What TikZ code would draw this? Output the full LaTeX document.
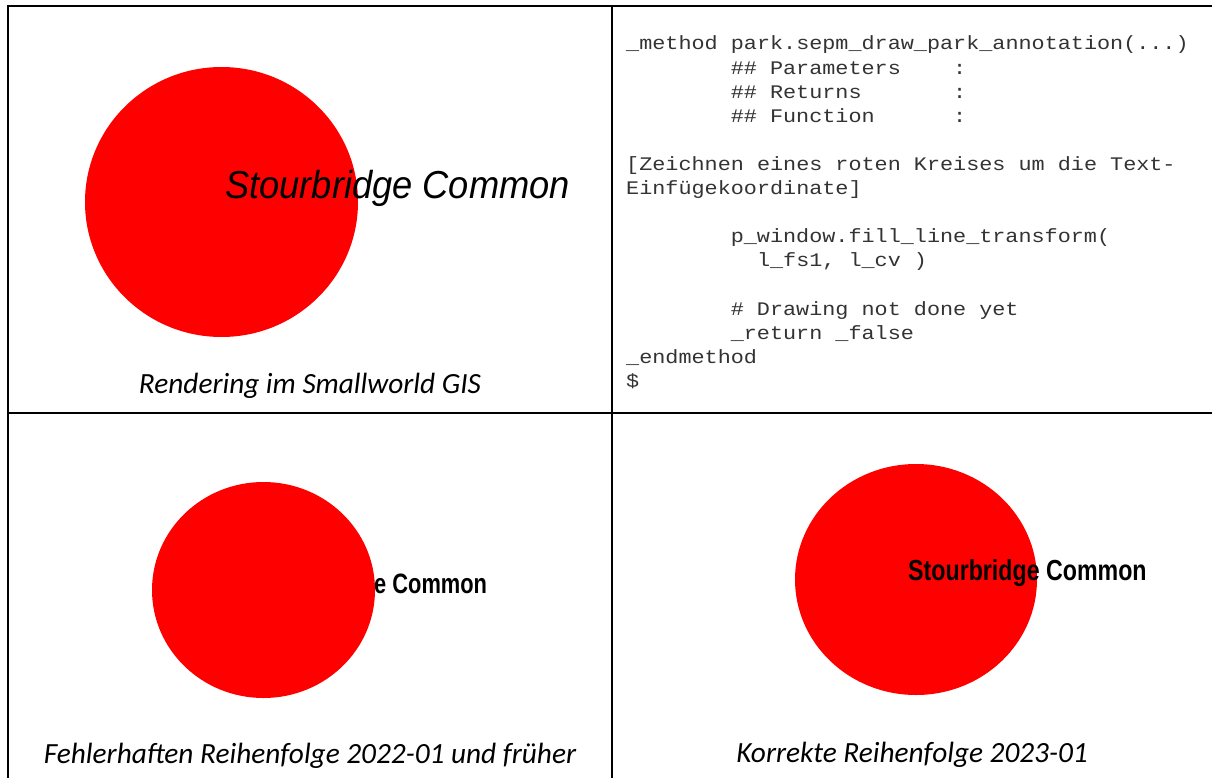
\documentclass[tikz,border=0pt]{standalone}
\usepackage{fontspec}
\newfontfamily\codefont{Liberation Mono}
\newfontfamily\arialfont{Liberation Sans}
\newfontfamily\capfont{Carlito}
\newcommand\codeline[1]{\scalebox{1}[0.88]{#1}}
\begin{document}
\begin{tikzpicture}[x=1pt,y=-1pt,
  grid/.style={line width=2pt,black},
  code/.style={anchor=base west,inner sep=0pt,text=black!80,font=\codefont\fontsize{21.8}{24}\selectfont},
  caption/.style={anchor=base,inner sep=0pt,font=\capfont\itshape\fontsize{29.3}{29.3}\selectfont},
  dot/.style={fill={rgb,255:red,255;green,0;blue,0},draw=none},
  lbl/.style={anchor=base west,inner sep=0pt}]
\useasboundingbox (0,0) rectangle (1212,778);
\fill[white] (0,0) rectangle (1212,778);
% table grid
\coordinate (tl) at (7.5,6);
\coordinate (tr) at (1213,6);
\coordinate (bl) at (7.5,779);
\coordinate (mt) at (612,6);
\coordinate (mb) at (612,779);
\coordinate (ml) at (7.5,413);
\coordinate (mr) at (1213,413);
\draw[grid] (tr) -- (tl) -- (bl);
\draw[grid] (mt) -- (mb);
\draw[grid] (ml) -- (mr);
% cell 1
\fill[dot] (221.5,202) ellipse [x radius=136.5, y radius=135];
\node[lbl,font=\arialfont\itshape\fontsize{39}{39}\selectfont] (t1) at (225,199) {\scalebox{0.93}[1]{Stourbridge Common}};
\node[caption] (cap1) at (310,393) {Rendering im Smallworld GIS};
% cell 2 code
\node[code] (c1) at (626,50) {\codeline{\_method park.sepm\_draw\_park\_annotation(...)}};
\node[code] (c2) at (730.6,74.1) {\codeline{\#\#\ Parameters\ \ \ \ :}};
\node[code] (c3) at (730.6,98.2) {\codeline{\#\#\ Returns\ \ \ \ \ \ \ :}};
\node[code] (c4) at (730.6,122.3) {\codeline{\#\#\ Function\ \ \ \ \ \ :}};
\node[code] (c5) at (626,170.5) {\codeline{[Zeichnen eines roten Kreises um die Text-}};
\node[code] (c6) at (626,194.6) {\codeline{Einfügekoordinate]}};
\node[code] (c7) at (730.6,242.8) {\codeline{p\_window.fill\_line\_transform(}};
\node[code] (c8) at (756.8,266.9) {\codeline{l\_fs1, l\_cv )}};
\node[code] (c9) at (730.6,315.1) {\codeline{\# Drawing not done yet}};
\node[code] (c10) at (730.6,339.2) {\codeline{\_return \_false}};
\node[code] (c11) at (626,363.3) {\codeline{\_endmethod}};
\node[code] (c12) at (626,387.4) {\codeline{\$}};
% cell 3
\node[lbl,font=\arialfont\bfseries\fontsize{28}{28}\selectfont] (t2) at (374,593) {\scalebox{0.78}[1]{e Common}};
\fill[dot] (263.5,590) ellipse [x radius=111.5, y radius=108];
\node[caption] (cap2) at (310,763) {Fehlerhaften Reihenfolge 2022-01 und früher};
% cell 4
\fill[dot] (916,579.5) ellipse [x radius=121, y radius=115.5];
\node[lbl,font=\arialfont\bfseries\fontsize{29}{29}\selectfont] (t3) at (908,580) {\scalebox{0.8}[1]{Stourbridge Common}};
\node[caption] (cap3) at (912,762) {Korrekte Reihenfolge 2023-01};
\end{tikzpicture}
\end{document}
